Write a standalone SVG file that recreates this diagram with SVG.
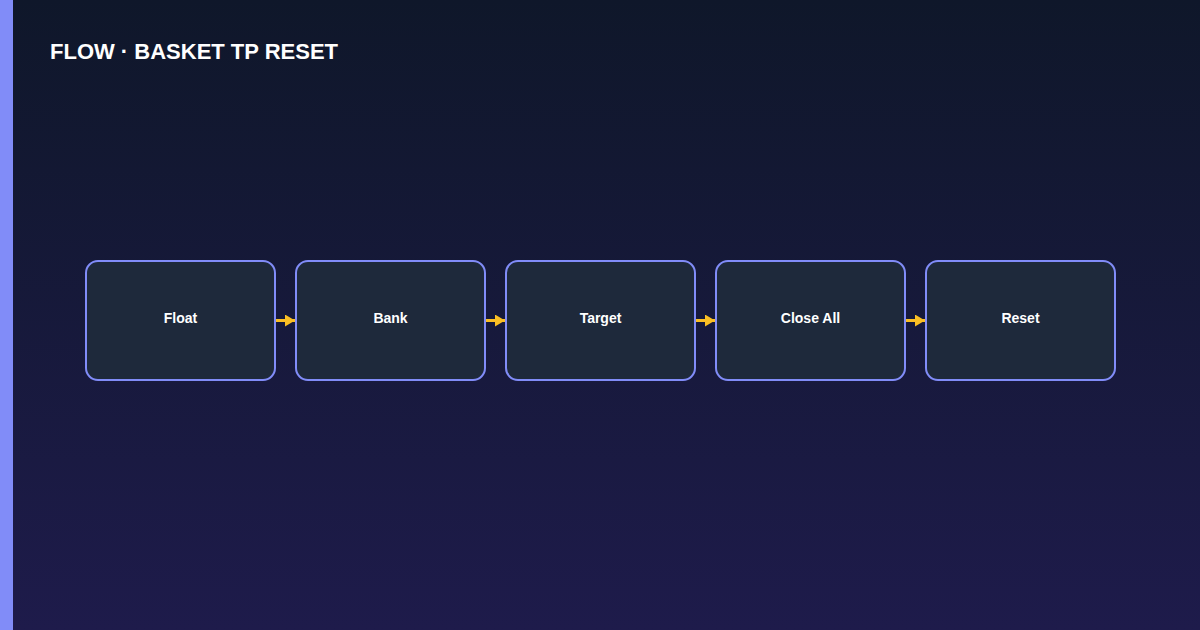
<svg xmlns="http://www.w3.org/2000/svg" width="1200" height="630" viewBox="0 0 1200 630">
  <defs>
    <linearGradient id="bg" x1="0" y1="0" x2="0" y2="1">
      <stop offset="0" stop-color="#0f172a"/>
      <stop offset="1" stop-color="#1e1b4b"/>
    </linearGradient>
    <marker id="arrow" viewBox="0 0 10 12" refX="10" refY="6" markerWidth="10" markerHeight="12" markerUnits="userSpaceOnUse" orient="auto">
      <path d="M0,0 L10,6 L0,12 Z" fill="#fbbf24"/>
    </marker>
    <style>
      .node rect { fill: #1e293b; stroke: #818cf8; stroke-width: 2; }
      .node text { font-family: "Liberation Sans", Arial, sans-serif; font-size: 14px; font-weight: bold; fill: #ffffff; text-anchor: middle; }
      .edge { stroke: #fbbf24; stroke-width: 3; fill: none; }
      .title { font-family: "Liberation Sans", Arial, sans-serif; font-size: 22px; font-weight: bold; fill: #ffffff; }
    </style>
  </defs>
  <rect x="0" y="0" width="1200" height="630" fill="url(#bg)"/>
  <rect x="0" y="0" width="13" height="630" fill="#818cf8"/>
  <text class="title" x="50" y="59">FLOW · BASKET TP RESET</text>

  <g id="connectors">
    <line class="edge" x1="275" y1="320.5" x2="295" y2="320.5" marker-end="url(#arrow)"/>
    <line class="edge" x1="485" y1="320.5" x2="505" y2="320.5" marker-end="url(#arrow)"/>
    <line class="edge" x1="695" y1="320.5" x2="715" y2="320.5" marker-end="url(#arrow)"/>
    <line class="edge" x1="905" y1="320.5" x2="925" y2="320.5" marker-end="url(#arrow)"/>
  </g>

  <g id="node-float" class="node">
    <rect x="86" y="261" width="189" height="119" rx="12"/>
    <text x="180.5" y="323">Float</text>
  </g>
  <g id="node-bank" class="node">
    <rect x="296" y="261" width="189" height="119" rx="12"/>
    <text x="390.5" y="323">Bank</text>
  </g>
  <g id="node-target" class="node">
    <rect x="506" y="261" width="189" height="119" rx="12"/>
    <text x="600.5" y="323">Target</text>
  </g>
  <g id="node-close-all" class="node">
    <rect x="716" y="261" width="189" height="119" rx="12"/>
    <text x="810.5" y="323">Close All</text>
  </g>
  <g id="node-reset" class="node">
    <rect x="926" y="261" width="189" height="119" rx="12"/>
    <text x="1020.5" y="323">Reset</text>
  </g>
</svg>
